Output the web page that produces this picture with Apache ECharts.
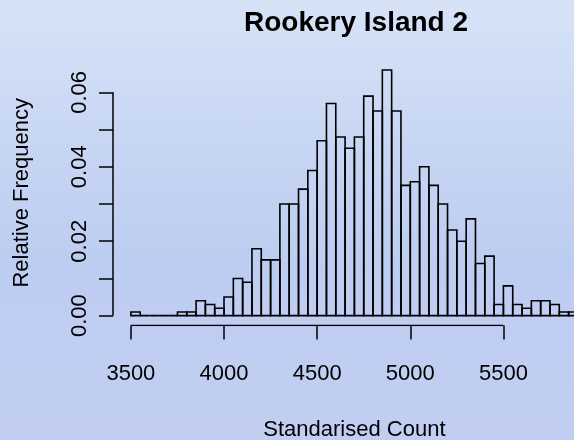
<!DOCTYPE html>
<html>
<head>
<meta charset="utf-8">
<script src="https://cdn.jsdelivr.net/npm/echarts@6/dist/echarts.min.js"></script>
<style>
html,body{margin:0;padding:0;}
#chart{width:574px;height:440px;background:linear-gradient(to bottom,#d6e3f7 0%,#c6d5f3 35%,#bdcdf1 60%,#c1cef2 100%);}
</style>
</head>
<body>
<div id="chart"></div>
<script>
// Data (bin width 50)
const chartTitle = 'Rookery Island 2';
const xTitle = 'Standarised Count';
const yTitle = 'Relative Frequency';
const binWidth = 50;
const binStart = [3500,3550,3600,3650,3700,3750,3800,3850,3900,3950,
                  4000,4050,4100,4150,4200,4250,4300,4350,4400,4450,
                  4500,4550,4600,4650,4700,4750,4800,4850,4900,4950,
                  5000,5050,5100,5150,5200,5250,5300,5350,5400,5450,
                  5500,5550,5600,5650,5700,5750,5800,5850];
const relFreq  = [0.001,0,0,0,0,0.001,0.001,0.004,0.003,0.002,
                  0.005,0.010,0.009,0.018,0.015,0.015,0.030,0.030,0.034,0.039,
                  0.047,0.057,0.048,0.045,0.048,0.059,0.055,0.066,0.055,0.035,
                  0.036,0.040,0.035,0.030,0.023,0.020,0.026,0.014,0.016,0.003,
                  0.008,0.003,0.002,0.004,0.004,0.003,0.001,0.001];
const xTicks = [3500,4000,4500,5000,5500];
const yTicks = [0,0.01,0.02,0.03,0.04,0.05,0.06];
const yLabels = [0,0.02,0.04,0.06];

// R-style axis extents (4% padding)
const xMin = 3404, xMax = 5996;
const yMin = -0.00264, yMax = 0.06864;

const FONT = '"Liberation Sans", Arial, Helvetica, sans-serif';
const chart = echarts.init(document.getElementById('chart'), null, {renderer:'canvas'});

const option = {
  animation: false,
  backgroundColor: 'transparent',
  grid: {left: 113, top: 60.2, width: 482.8, height: 265.3, containLabel: false,
         outerBoundsMode: 'none'},
  graphic: [{
    type: 'text', x: 356, y: 23,
    style: {text: chartTitle, textAlign: 'center', textVerticalAlign: 'middle',
            font: 'bold 28px ' + FONT, fill: '#000'}
  }],
  xAxis: {
    type: 'value', min: xMin, max: xMax,
    splitLine: {show: false},
    axisLine: {show: false, onZero: false},
    axisTick: {show: true, length: 14, customValues: xTicks,
               lineStyle: {color: '#000', width: 1.5}},
    axisLabel: {customValues: xTicks, margin: 37, color: '#000',
                fontSize: 22, fontFamily: FONT,
                formatter: v => String(v)},
    name: xTitle, nameLocation: 'middle', nameGap: 93,
    nameTextStyle: {color: '#000', fontSize: 22, fontFamily: FONT}
  },
  yAxis: {
    type: 'value', min: yMin, max: yMax,
    splitLine: {show: false},
    axisLine: {show: false, onZero: false},
    axisTick: {show: true, length: 14, customValues: yTicks,
               lineStyle: {color: '#000', width: 1.5}},
    axisLabel: {customValues: yLabels, rotate: 90, margin: 22, color: '#000',
                fontSize: 22, fontFamily: FONT,
                formatter: v => Number(v).toFixed(2)},
    name: yTitle, nameLocation: 'middle', nameRotate: 90, nameGap: 80,
    nameTextStyle: {color: '#000', fontSize: 22, fontFamily: FONT}
  },
  series: [
    {
      type: 'custom',
      data: binStart.map((b, i) => [b, relFreq[i]]),
      renderItem: function (params, api) {
        const x0 = api.value(0), f = api.value(1);
        const p0 = api.coord([x0, 0]);
        const p1 = api.coord([x0 + binWidth, f]);
        return {
          type: 'rect',
          shape: {x: p0[0], y: p1[1], width: p1[0] - p0[0], height: p0[1] - p1[1]},
          style: {fill: 'none', stroke: '#000', lineWidth: 1.6}
        };
      },
      clip: false
    },
    { // x axis line spanning tick range
      type: 'line', symbol: 'none', silent: true,
      data: [[xTicks[0], yMin], [xTicks[xTicks.length - 1], yMin]],
      lineStyle: {color: '#000', width: 1.5}
    },
    { // y axis line spanning tick range
      type: 'line', symbol: 'none', silent: true,
      data: [[xMin, yTicks[0]], [xMin, yTicks[yTicks.length - 1]]],
      lineStyle: {color: '#000', width: 1.5}
    }
  ]
};
chart.setOption(option);
</script>
</body>
</html>
